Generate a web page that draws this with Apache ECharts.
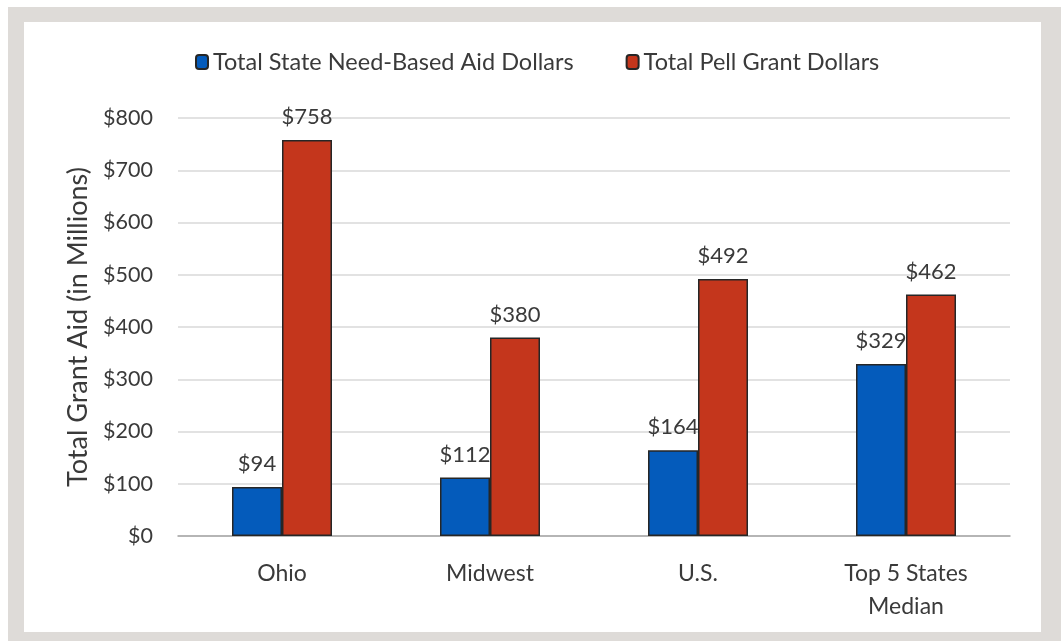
<!DOCTYPE html>
<html>
<head>
<meta charset="utf-8">
<script src="https://cdn.jsdelivr.net/npm/echarts@6/dist/echarts.min.js"></script>
<style>
  html, body { margin: 0; padding: 0; background: #ffffff; }
  #frame { position: absolute; left: 8px; top: 7px; width: 1053px; height: 634px; background: #dedbd8; }
  #inner { position: absolute; left: 16px; top: 15px; width: 1017px; height: 610px; background: #ffffff; }
  #chart { position: absolute; left: 0; top: 0; width: 1061px; height: 641px; }
</style>
</head>
<body>
<div id="frame"><div id="inner"></div></div>
<div id="chart"></div>
<script>
const categories = ['Ohio', 'Midwest', 'U.S.', 'Top 5 States\nMedian'];
const stateAid = [94, 112, 164, 329];
const pellAid = [758, 380, 492, 462];
const yTicks = { min: 0, max: 800, interval: 100 };
const seriesNames = ['Total State Need-Based Aid Dollars', 'Total Pell Grant Dollars'];

const font = 'Lato, "Open Sans", sans-serif';
const chart = echarts.init(document.getElementById('chart'), null, { renderer: 'canvas' });
const labelCfg = {
  show: true, position: 'top', distance: 12,
  formatter: p => '$' + p.value,
  color: '#3a3a3a', fontSize: 22, fontFamily: font
};
chart.setOption({
  backgroundColor: 'transparent',
  animation: false,
  legend: {
    top: 45, left: 190,
    itemWidth: 12, itemHeight: 14, itemGap: 52,
    textStyle: { fontSize: 23.5, color: '#3a3a3a', fontFamily: font },
    data: seriesNames
  },
  grid: { left: 178, right: 51, top: 118, bottom: 105, containLabel: false },
  xAxis: {
    type: 'category', data: categories,
    axisLine: { lineStyle: { color: '#a6a6a6', width: 1.5 } },
    axisTick: { show: false },
    axisLabel: { fontSize: 23, color: '#3a3a3a', fontFamily: font, margin: 21, lineHeight: 33 }
  },
  yAxis: {
    type: 'value', min: yTicks.min, max: yTicks.max, interval: yTicks.interval,
    name: 'Total Grant Aid (in Millions)', nameLocation: 'middle', nameGap: 80, nameRotate: 90,
    nameTextStyle: { fontSize: 27, color: '#3a3a3a', fontFamily: font },
    axisLabel: { formatter: v => '$' + v, fontSize: 21.5, color: '#3a3a3a', fontFamily: font, margin: 25 },
    axisLine: { show: false }, axisTick: { show: false },
    splitLine: { lineStyle: { color: '#d9d9d9', width: 1.5 } }
  },
  series: [
    {
      name: seriesNames[0], type: 'bar', data: stateAid,
      barWidth: 50, barGap: '0%',
      itemStyle: { color: '#045bbb', borderColor: '#262626', borderWidth: 1.5 },
      label: labelCfg
    },
    {
      name: seriesNames[1], type: 'bar', data: pellAid,
      barWidth: 50,
      itemStyle: { color: '#c4361c', borderColor: '#262626', borderWidth: 1.5 },
      label: labelCfg
    }
  ]
});
</script>
</body>
</html>
